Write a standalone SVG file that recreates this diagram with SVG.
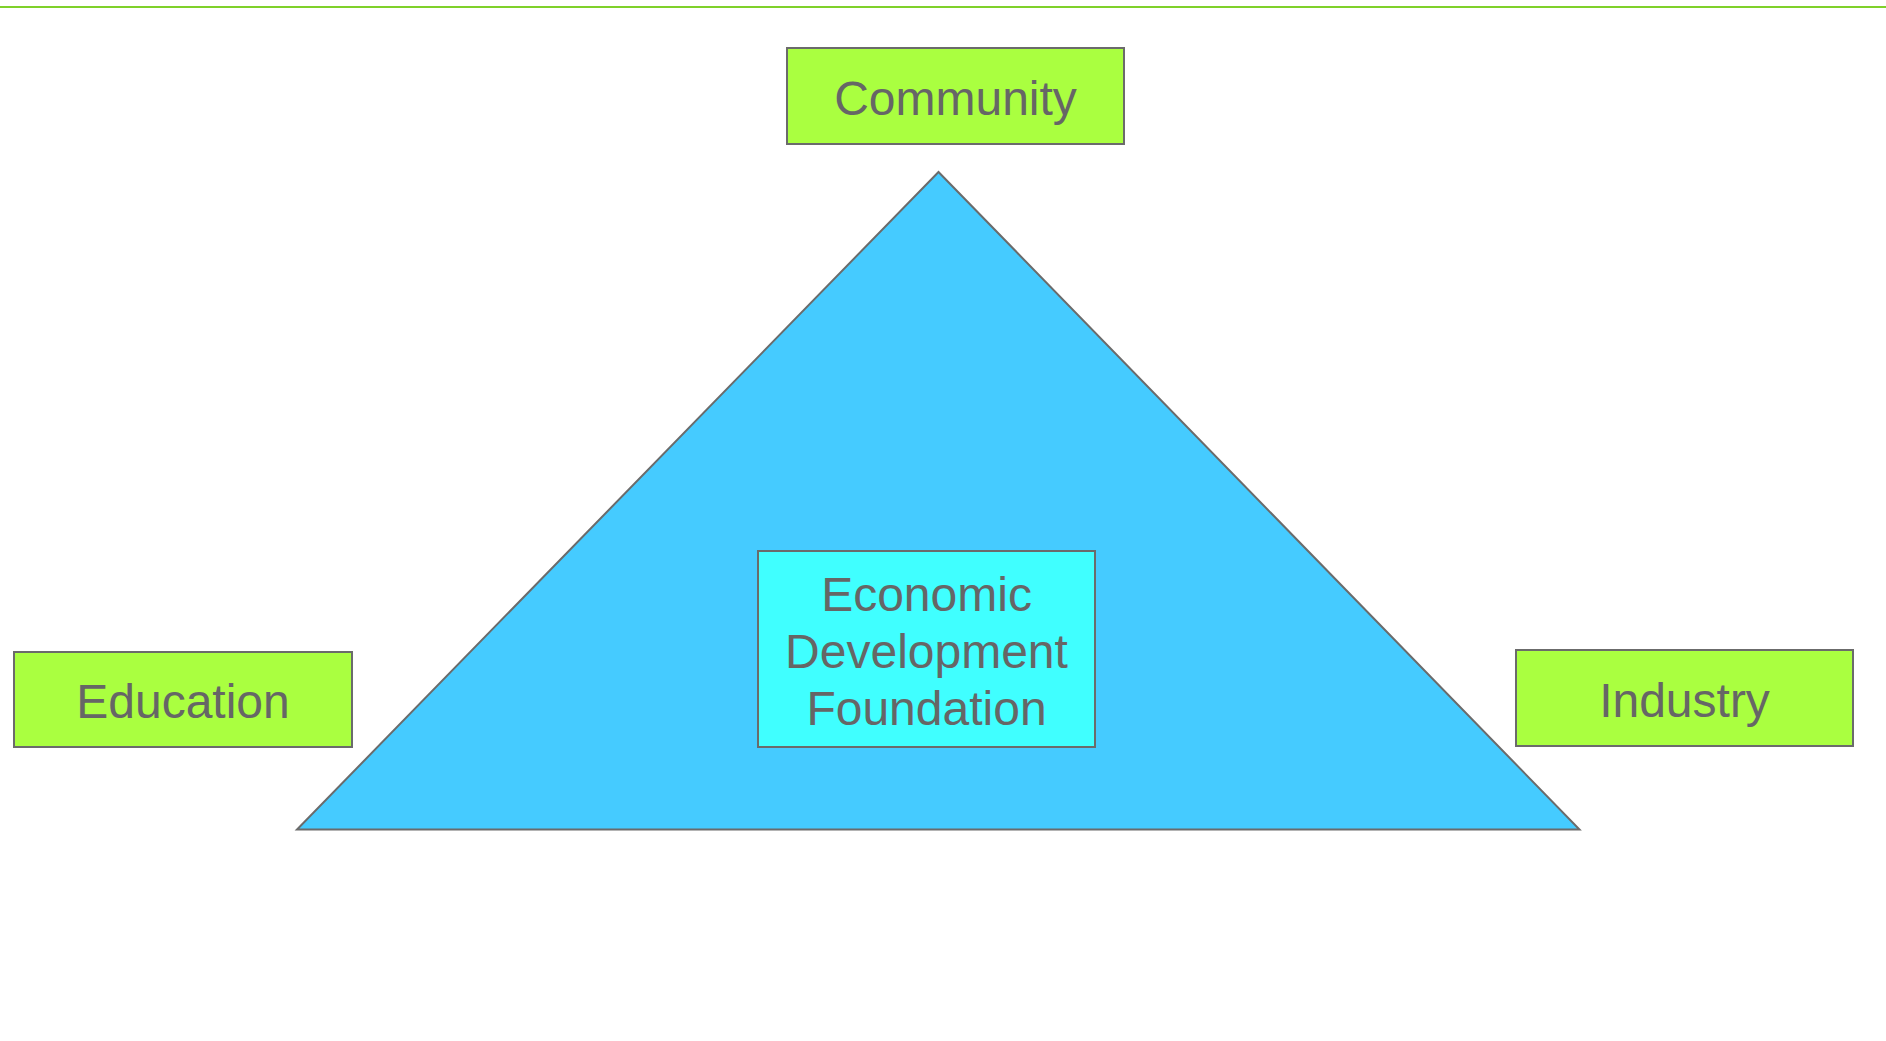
<svg xmlns="http://www.w3.org/2000/svg" width="1886" height="1041" viewBox="0 0 1886 1041">
<style>
.box{fill:#aaff40;stroke:#6b6b6b;stroke-width:2}
.lbl{font-family:"Liberation Sans",Arial,sans-serif;font-size:48px;fill:#666666;text-anchor:middle}
</style>
<rect width="1886" height="1041" fill="#ffffff"/>
<line x1="0" y1="7" x2="1886" y2="7" stroke="#7fd12a" stroke-width="2"/>
<g id="triangle">
<polygon points="938.5,172 297,829.5 1579.5,829.5" fill="#45cbff" stroke="#6b6b6b" stroke-width="2"/>
</g>
<g id="community">
<rect class="box" x="787" y="48" width="337" height="96"/>
<text class="lbl" x="955.5" y="115">Community</text>
</g>
<g id="education">
<rect class="box" x="14" y="652" width="338" height="95"/>
<text class="lbl" x="183" y="718">Education</text>
</g>
<g id="industry">
<rect class="box" x="1516" y="650" width="337" height="96"/>
<text class="lbl" x="1684.5" y="717">Industry</text>
</g>
<g id="foundation">
<rect x="758" y="551" width="337" height="196" fill="#40ffff" stroke="#6b6b6b" stroke-width="2"/>
<text class="lbl" x="926.5" y="611">Economic</text>
<text class="lbl" x="926.5" y="668">Development</text>
<text class="lbl" x="926.5" y="725">Foundation</text>
</g>
<g id="connectors"></g>
</svg>
